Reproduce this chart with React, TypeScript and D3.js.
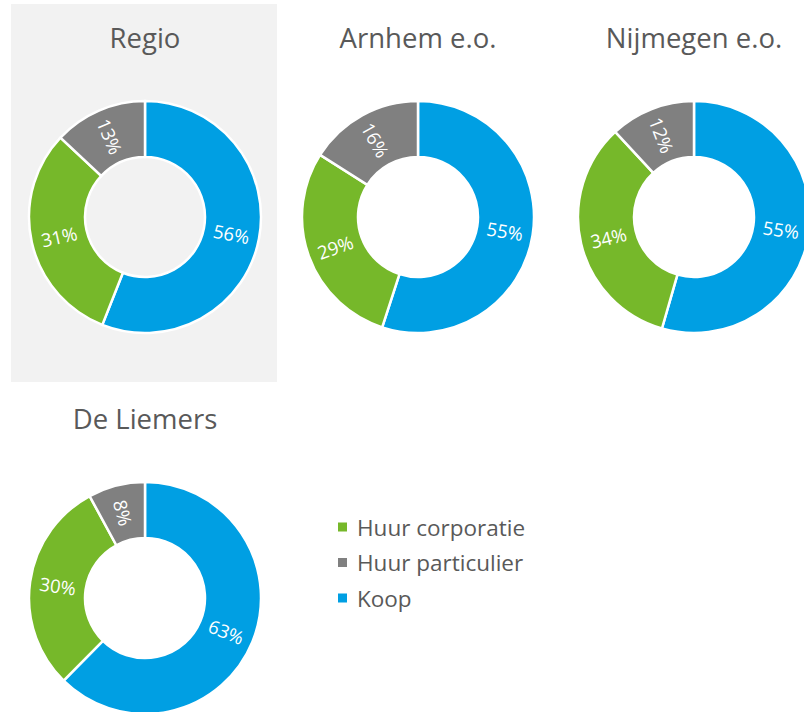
import React from 'react';
import * as d3 from 'd3';

const regions = ['Regio', 'Arnhem e.o.', 'Nijmegen e.o.', 'De Liemers'];
const categories = ['Koop', 'Huur corporatie', 'Huur particulier'];
const koop = [56, 55, 55, 63];
const huurCorporatie = [31, 29, 34, 30];
const huurParticulier = [13, 16, 12, 8];
const legendOrder = ['Huur corporatie', 'Huur particulier', 'Koop'];

const colors: Record<string, string> = {
    'Koop': '#009FE3',
    'Huur corporatie': '#76B82A',
    'Huur particulier': '#808080',
};

// cell layout: 3 across on top row, 1 on the second
const cellX = d3.scaleOrdinal<number, number>().domain([0, 1, 2, 3]).range([145, 418, 694, 145]);
const cellY = d3.scaleOrdinal<number, number>().domain([0, 1, 2, 3]).range([217, 217, 217, 598]);
const outerR = 116;
const innerR = 60;
const font = '"Open Sans", "Noto Sans", sans-serif';

const pie = d3.pie<{ key: string; value: number }>().value(d => d.value).sort(null);
const arc = d3.arc<d3.PieArcDatum<{ key: string; value: number }>>().innerRadius(innerR).outerRadius(outerR);

const Donut = ({ i }: { i: number }) => {
    const values = categories.map((key, k) => ({
        key,
        value: [koop, huurCorporatie, huurParticulier][k][i],
    }));
    const arcs = pie(values);
    const cx = cellX(i);
    const cy = cellY(i);
    const labelR = (innerR + outerR) / 2;
    return (
        <g>
            <text x={cx} y={cy - 169} textAnchor="middle" fontFamily={font} fontSize={27.5} fill="#595959">
                {regions[i]}
            </text>
            <g transform={`translate(${cx},${cy})`}>
                {arcs.map(a => (
                    <path key={a.data.key} d={arc(a) || ''} fill={colors[a.data.key]} stroke="#fff" strokeWidth={2.5} />
                ))}
                {arcs.map(a => {
                    const mid = (a.startAngle + a.endAngle) / 2;
                    const deg = (mid * 180) / Math.PI;
                    const rot = deg < 180 ? deg - 90 : deg - 270;
                    const x = Math.sin(mid) * labelR;
                    const y = -Math.cos(mid) * labelR;
                    return (
                        <text
                            key={'l' + a.data.key}
                            transform={`translate(${x},${y}) rotate(${rot})`}
                            textAnchor="middle"
                            dominantBaseline="central"
                            fontFamily={font}
                            fontSize={18.5}
                            fill="#fff"
                        >
                            {a.data.value}%
                        </text>
                    );
                })}
            </g>
        </g>
    );
};

const App = () => {
    const legendY = d3.scalePoint<string>().domain(legendOrder).range([527, 598]);
    return (
        <div style={{ position: 'fixed', left: 0, top: 0 }}>
            <svg width={804} height={712} style={{ display: 'block', background: '#fff' }}>
                <rect x={11} y={4} width={266} height={378} fill="#F2F2F2" />
                {regions.map((r, i) => (
                    <Donut key={r} i={i} />
                ))}
                {legendOrder.map(c => (
                    <g key={c} transform={`translate(338,${legendY(c)})`}>
                        <rect x={0} y={-4.5} width={9} height={9} fill={colors[c]} />
                        <text x={19} y={0} dominantBaseline="central" fontFamily={font} fontSize={22.5} fill="#595959">
                            {c}
                        </text>
                    </g>
                ))}
            </svg>
        </div>
    );
};

export default App;
